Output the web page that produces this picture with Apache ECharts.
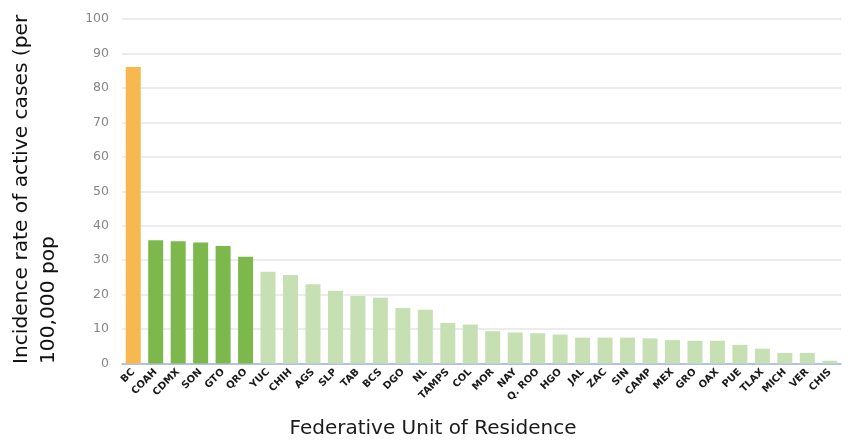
<!DOCTYPE html>
<html>
<head>
<meta charset="utf-8">
<script src="https://cdn.jsdelivr.net/npm/echarts@6/dist/echarts.min.js"></script>
<style>
html,body{margin:0;padding:0;background:#fff;}
#chart{width:849px;height:441px;}
</style>
</head>
<body>
<div id="chart"></div>
<script>
const categories = ['BC','COAH','CDMX','SON','GTO','QRO','YUC','CHIH','AGS','SLP','TAB','BCS','DGO','NL','TAMPS','COL','MOR','NAY','Q. ROO','HGO','JAL','ZAC','SIN','CAMP','MEX','GRO','OAX','PUE','TLAX','MICH','VER','CHIS'];
const values = [86.1,35.8,35.5,35.1,34.1,31.0,26.6,25.7,23.0,21.1,19.6,19.1,16.1,15.6,11.8,11.3,9.4,9.0,8.8,8.4,7.5,7.5,7.5,7.3,6.8,6.6,6.6,5.4,4.3,3.1,3.1,0.8];
const yTicks = [0,10,20,30,40,50,60,70,80,90,100];
const xTitle = 'Federative Unit of Residence';
const yTitleLines = ['Incidence rate of active cases (per', '100,000 pop'];

const chart = echarts.init(document.getElementById('chart'));
function barColor(i){
  if (i === 0) return '#F7B84F';
  if (i < 6) return '#7DB84D';
  return '#C6E0B3';
}
chart.setOption({
  animation:false,
  grid:{left:122,right:8,top:19,bottom:77.5,containLabel:false},
  xAxis:{
    type:'category',
    data:categories,
    axisLine:{lineStyle:{color:'#9FB5DD',width:1.5}},
    axisTick:{show:false},
    axisLabel:{interval:0,rotate:45,fontSize:10,fontWeight:'bold',color:'#1a1a1a',fontFamily:'DejaVu Sans',margin:7}
  },
  yAxis:{
    type:'value',min:yTicks[0],max:yTicks[yTicks.length-1],interval:10,
    axisLine:{show:false},axisTick:{show:false},
    splitLine:{lineStyle:{color:'#E6E6E6',width:1.5}},
    axisLabel:{fontSize:12.5,color:'#858585',fontFamily:'DejaVu Sans',margin:13}
  },
  series:[{
    type:'bar',
    data:values.map((v,i)=>({value:v,itemStyle:{color:barColor(i)}})),
    barWidth:15
  }],
  graphic:[
    {type:'text',x:433,y:429,style:{text:xTitle,font:'500 20px "DejaVu Sans"',fill:'#1a1a1a',textAlign:'center',textVerticalAlign:'middle'}},
    {type:'text',x:22,y:364,rotation:Math.PI/2,style:{text:yTitleLines[0],font:'500 20.2px "DejaVu Sans"',fill:'#111',textAlign:'left',textVerticalAlign:'middle'}},
    {type:'text',x:49,y:364,rotation:Math.PI/2,style:{text:yTitleLines[1],font:'500 20.2px "DejaVu Sans"',fill:'#111',textAlign:'left',textVerticalAlign:'middle'}}
  ]
});
</script>
</body>
</html>
